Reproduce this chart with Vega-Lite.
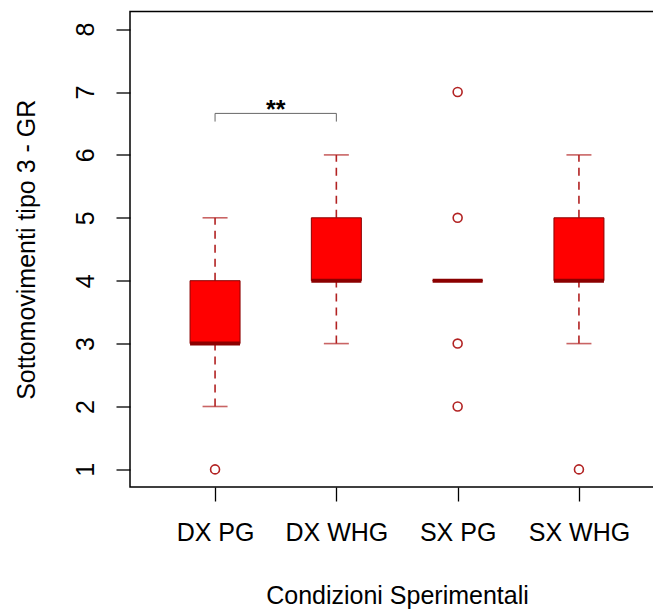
{
  "$schema": "https://vega.github.io/schema/vega-lite/v6.json",
  "width": 534,
  "height": 475.5,
  "autosize": {"type": "none"},
  "padding": {"left": 130, "top": 11.5, "right": 0, "bottom": 123},
  "background": "white",
  "config": {
    "view": {"stroke": "#000", "strokeWidth": 1.5},
    "font": "Liberation Sans",
    "axis": {
      "grid": false, "domain": false, "tickColor": "#000", "tickWidth": 1.3, "tickSize": 14,
      "labelFont": "Liberation Sans", "labelFontSize": 25, "labelColor": "#000",
      "titleFont": "Liberation Sans", "titleFontSize": 25, "titleFontWeight": "normal", "titleColor": "#000"
    },
    "axisX": {"labelPadding": 19, "titlePadding": 38},
    "axisY": {"labelAngle": -90, "labelAlign": "center", "labelBaseline": "alphabetic", "labelPadding": 23, "titlePadding": 34, "format": "d"}
  },
  "datasets": {
    "boxes": [
      {"cond": "DX PG", "pos": 1, "lo": 2, "q1": 3, "med": 3, "q3": 4, "hi": 5},
      {"cond": "DX WHG", "pos": 2, "lo": 3, "q1": 4, "med": 4, "q3": 5, "hi": 6},
      {"cond": "SX PG", "pos": 3, "lo": 4, "q1": 4, "med": 4, "q3": 4, "hi": 4},
      {"cond": "SX WHG", "pos": 4, "lo": 3, "q1": 4, "med": 4, "q3": 5, "hi": 6}
    ],
    "outliers": [
      {"cond": "DX PG", "pos": 1, "value": 1},
      {"cond": "SX PG", "pos": 3, "value": 2},
      {"cond": "SX PG", "pos": 3, "value": 3},
      {"cond": "SX PG", "pos": 3, "value": 5},
      {"cond": "SX PG", "pos": 3, "value": 7},
      {"cond": "SX WHG", "pos": 4, "value": 1}
    ],
    "bracket": [
      {"pos": 1, "pos2": 2, "y": 6.66, "y2": 6.66},
      {"pos": 1, "pos2": 1, "y": 6.53, "y2": 6.66},
      {"pos": 2, "pos2": 2, "y": 6.53, "y2": 6.66}
    ],
    "sig": [{"pos": 1.5, "y": 6.58, "label": "**"}]
  },
  "encoding": {
    "x": {
      "field": "pos", "type": "quantitative",
      "scale": {"domain": [0.34, 4.66], "nice": false, "zero": false},
      "axis": {"values": [1, 2, 3, 4], "labelExpr": "['','DX PG','DX WHG','SX PG','SX WHG'][datum.value]", "title": "Condizioni Sperimentali"}
    }
  },
  "layer": [
    {
      "data": {"name": "boxes"},
      "mark": {"type": "rule", "color": "#B22222", "strokeWidth": 1.6, "strokeDash": [8, 6]},
      "encoding": {
        "y": {"field": "lo", "type": "quantitative", "scale": {"domain": [0.72, 8.28], "nice": false, "zero": false}, "axis": {"values": [1, 2, 3, 4, 5, 6, 7, 8]}, "title": "Sottomovimenti tipo 3 - GR"},
        "y2": {"field": "q1"}
      }
    },
    {
      "data": {"name": "boxes"},
      "mark": {"type": "rule", "color": "#B22222", "strokeWidth": 1.6, "strokeDash": [8, 6]},
      "encoding": {
        "y": {"field": "q3", "type": "quantitative", "title": "Sottomovimenti tipo 3 - GR"},
        "y2": {"field": "hi"}
      }
    },
    {
      "data": {"name": "boxes"},
      "mark": {"type": "tick", "orient": "horizontal", "color": "#B22222", "size": 25, "thickness": 1.6},
      "encoding": {"y": {"field": "lo", "type": "quantitative", "title": "Sottomovimenti tipo 3 - GR"}}
    },
    {
      "data": {"name": "boxes"},
      "mark": {"type": "tick", "orient": "horizontal", "color": "#B22222", "size": 25, "thickness": 1.6},
      "encoding": {"y": {"field": "hi", "type": "quantitative", "title": "Sottomovimenti tipo 3 - GR"}}
    },
    {
      "data": {"name": "boxes"},
      "mark": {"type": "bar", "width": 50, "fill": "#FF0000", "stroke": "#8B0000", "strokeWidth": 1, "opacity": 1},
      "encoding": {
        "y": {"field": "q1", "type": "quantitative", "title": "Sottomovimenti tipo 3 - GR"},
        "y2": {"field": "q3"}
      }
    },
    {
      "data": {"name": "boxes"},
      "mark": {"type": "tick", "orient": "horizontal", "color": "#8B0000", "size": 50, "thickness": 4, "opacity": 1},
      "encoding": {"y": {"field": "med", "type": "quantitative", "title": "Sottomovimenti tipo 3 - GR"}}
    },
    {
      "data": {"name": "outliers"},
      "mark": {"type": "point", "shape": "circle", "filled": false, "color": "#B22222", "size": 80, "strokeWidth": 1.6, "opacity": 1},
      "encoding": {"y": {"field": "value", "type": "quantitative", "title": "Sottomovimenti tipo 3 - GR"}}
    },
    {
      "data": {"name": "bracket"},
      "mark": {"type": "rule", "color": "#666666", "strokeWidth": 1},
      "encoding": {
        "x2": {"field": "pos2"},
        "y": {"field": "y", "type": "quantitative", "title": "Sottomovimenti tipo 3 - GR"},
        "y2": {"field": "y2"}
      }
    },
    {
      "data": {"name": "sig"},
      "mark": {"type": "text", "fontSize": 25, "fontWeight": "bold", "color": "#000", "baseline": "alphabetic", "align": "center"},
      "encoding": {
        "y": {"field": "y", "type": "quantitative", "title": "Sottomovimenti tipo 3 - GR"},
        "text": {"field": "label"}
      }
    }
  ]
}
